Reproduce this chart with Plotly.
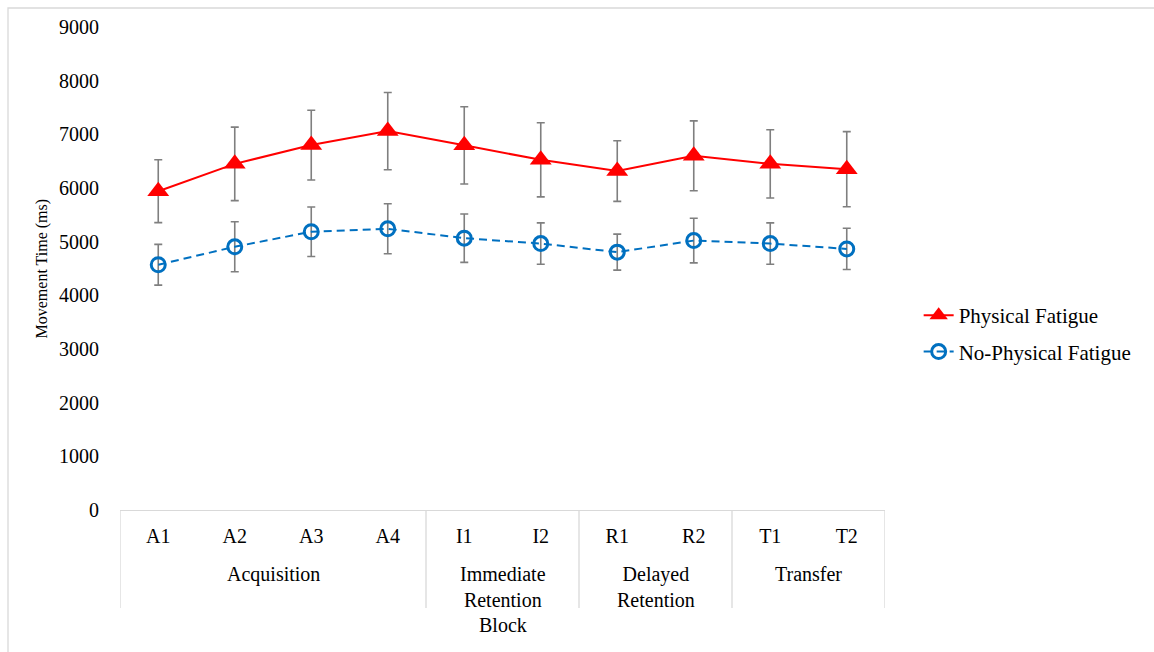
import plotly.graph_objects as go

# ---- data ----
blocks = ["A1", "A2", "A3", "A4", "I1", "I2", "R1", "R2", "T1", "T2"]
groups = ["Acquisition", "Immediate<br>Retention", "Delayed<br>Retention", "Transfer"]
group_sizes = [4, 2, 2, 2]

pf_mean = [5940, 6450, 6800, 7060, 6795, 6525, 6315, 6600, 6450, 6350]
pf_err = [585, 685, 650, 720, 720, 690, 565, 650, 635, 700]

npf_mean = [4570, 4905, 5185, 5240, 5065, 4965, 4805, 5020, 4965, 4865]
npf_err = [380, 465, 460, 466, 450, 385, 335, 415, 385, 385]

yticks = [0, 1000, 2000, 3000, 4000, 5000, 6000, 7000, 8000, 9000]

FONT = "Liberation Serif, Times New Roman, serif"
FS = 20

fig = go.Figure()

fig.add_trace(go.Scatter(
    x=blocks, y=pf_mean, name="Physical Fatigue", mode="lines+markers",
    line=dict(color="#FF0000", width=2),
    marker=dict(symbol="triangle-up", size=19, color="#FF0000"),
    error_y=dict(type="data", array=pf_err, color="#7F7F7F", thickness=1.6, width=4),
    legendgroup="a",
))
fig.add_trace(go.Scatter(
    x=blocks, y=npf_mean, name="No-Physical Fatigue", mode="lines+markers",
    line=dict(color="#0070C0", width=2, dash="8px,5px"),
    marker=dict(symbol="circle-open", size=14, color="#0070C0", line=dict(width=3, color="#0070C0")),
    error_y=dict(type="data", array=npf_err, color="#7F7F7F", thickness=1.6, width=4),
    legendgroup="b",
))

shapes = []
# group dividers below the axis
edges = [-0.5]
for s in group_sizes:
    edges.append(edges[-1] + s)
for e in edges:
    shapes.append(dict(type="line", xref="x", yref="paper", x0=e, x1=e, y0=0, y1=-0.203,
                       line=dict(color="#D9D9D9", width=1.3)))
# outer chart frame
shapes.append(dict(type="rect", xref="paper", yref="paper", x0=-0.1464, x1=1.37, y0=-0.32, y1=1.0393,
                   line=dict(color="#D9D9D9", width=1.3), fillcolor="rgba(0,0,0,0)", layer="below"))

annotations = []
for i, g in enumerate(groups):
    center = (edges[i] + edges[i + 1]) / 2
    annotations.append(dict(x=center, xref="x", y=-0.106, yref="paper", text=g, showarrow=False,
                            xanchor="center", yanchor="top",
                            font=dict(family=FONT, size=FS, color="#000000")))
annotations.append(dict(x=0.5, xref="paper", y=-0.238, yref="paper", text="Block", showarrow=False,
                        xanchor="center", yanchor="middle",
                        font=dict(family=FONT, size=FS, color="#000000")))
annotations.append(dict(x=-0.102, xref="paper", y=0.5, yref="paper", text="Movement Time (ms)",
                        showarrow=False, textangle=-90, xanchor="center", yanchor="middle",
                        font=dict(family=FONT, size=16, color="#000000")))

fig.update_layout(
    width=1154, height=652,
    margin=dict(l=120, r=269, t=27, b=142),
    paper_bgcolor="white", plot_bgcolor="white",
    font=dict(family=FONT, size=FS, color="#000000"),
    showlegend=True,
    legend=dict(x=1.044, y=0.445, xanchor="left", yanchor="top",
                font=dict(family=FONT, size=21, color="#000000"),
                tracegroupgap=6, bgcolor="rgba(0,0,0,0)"),
    xaxis=dict(type="category", categoryorder="array", categoryarray=blocks,
               range=[-0.5, len(blocks) - 0.5],
               showline=True, linecolor="#D9D9D9", linewidth=1.3,
               showgrid=False, zeroline=False,
               ticks="outside", ticklen=8, tickcolor="rgba(0,0,0,0)",
               tickfont=dict(family=FONT, size=FS, color="#000000")),
    yaxis=dict(range=[0, 9000], tickvals=yticks, ticktext=[str(v) for v in yticks],
               showline=False, showgrid=False, zeroline=False,
               ticks="outside", ticklen=16, tickcolor="rgba(0,0,0,0)",
               tickfont=dict(family=FONT, size=FS, color="#000000")),
    shapes=shapes,
    annotations=annotations,
)

fig.write_html("out.html")
